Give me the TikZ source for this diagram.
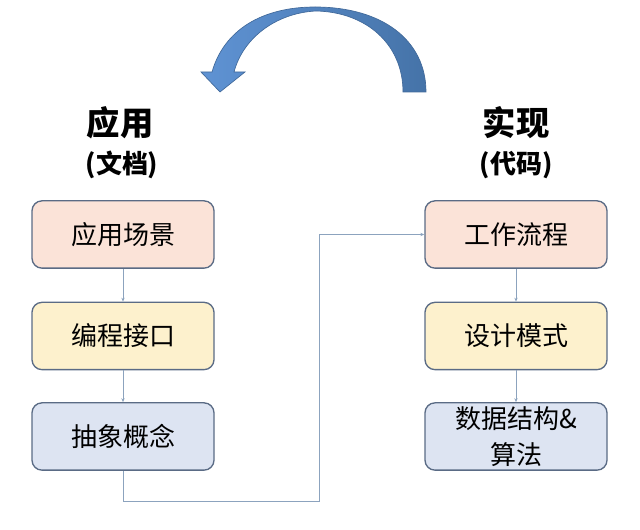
\documentclass[tikz,border=0pt]{standalone}
\usepackage{fontspec}
\setmainfont{Noto Sans CJK SC}
\usetikzlibrary{arrows.meta}
\definecolor{boxline}{HTML}{5A6B85}
\definecolor{peach}{HTML}{FBE3D8}
\definecolor{cream}{HTML}{FDF1CD}
\definecolor{lav}{HTML}{DDE4F2}
\definecolor{conn}{HTML}{8CA3BE}
\definecolor{arrowL}{HTML}{5F93D4}
\definecolor{arrowR}{HTML}{4573A8}
\definecolor{arrowE}{HTML}{41699A}
\tikzset{
  box/.style={draw=boxline, line width=1pt, rounded corners=7.5pt,
    minimum width=136.5pt, minimum height=50.5pt, inner sep=0pt,
    font=\fontsize{19.5}{30}\selectfont, align=center},
  conna/.style={draw=conn, line width=0.6pt, -{Stealth[length=3pt,width=2.5pt]}},
  head/.style={font=\fontsize{25}{30}\selectfont\bfseries},
  sub/.style={font=\fontsize{19.5}{24}\selectfont\bfseries},
}
\begin{document}
\begin{tikzpicture}[x=0.75pt,y=-0.75pt]
\useasboundingbox (0,0) rectangle (640,530);
% curved arrow
\path[left color=arrowL, right color=arrowR, draw=arrowE, line width=0.5pt]
  (426,92) -- (403,92)
  .. controls (403,44) and (366,12) .. (316,11)
  .. controls (276,13) and (243,38) .. (234,72)
  -- (245,72) -- (220,92) -- (201,72) -- (212,72)
  .. controls (224,30) and (262,7) .. (315,7)
  .. controls (382,7) and (426,40) .. (426,92) -- cycle;
% headings
\node[head] (h1) at (120,123) {应用};
\node[sub]  (s1) at (122,165) {(文档)};
\node[head] (h2) at (516,123) {实现};
\node[sub]  (s2) at (516,165) {(代码)};
% left boxes
\node[box, fill=peach] (a1) at (123,234.5) {应用场景};
\node[box, fill=cream] (a2) at (123,336) {编程接口};
\node[box, fill=lav]   (a3) at (123,436.5) {抽象概念};
% right boxes
\node[box, fill=peach] (b1) at (516,234.5) {工作流程};
\node[box, fill=cream] (b2) at (516,336) {设计模式};
\node[box, fill=lav]   (b3) at (516,436.5) {数据结构\&\\[-3pt]算法};
% connectors
\draw[conna] (a1) -- (a2);
\draw[conna] (a2) -- (a3);
\draw[conna] (b1) -- (b2);
\draw[conna] (b2) -- (b3);
\coordinate (c1) at (123,501);
\coordinate (c2) at (319,501);
\coordinate (c3) at (319,234.5);
\draw[conna] (a3.south) -- (c1) -- (c2) -- (c3) -- (b1.west);
\end{tikzpicture}
\end{document}
